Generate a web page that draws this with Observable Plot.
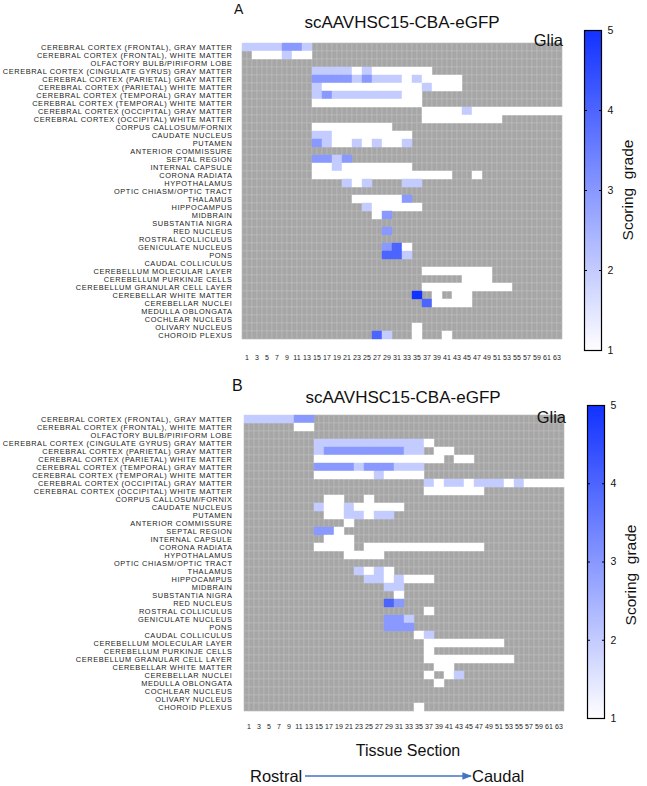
<!DOCTYPE html>
<html><head><meta charset="utf-8">
<script src="https://cdn.jsdelivr.net/npm/d3@7"></script>
<script src="https://cdn.jsdelivr.net/npm/@observablehq/plot@0.6"></script>
<style>
body{margin:0;background:#fff;}
#fig{position:relative;width:647px;height:786px;font-family:"Liberation Sans",Arial,sans-serif;overflow:hidden;background:#fff}
</style></head><body><div id="fig"></div>
<script>
// ---------- data ----------
const regions = [
"CEREBRAL CORTEX (FRONTAL), GRAY MATTER",
"CEREBRAL CORTEX (FRONTAL), WHITE MATTER",
"OLFACTORY BULB/PIRIFORM LOBE",
"CEREBRAL CORTEX (CINGULATE GYRUS) GRAY MATTER",
"CEREBRAL CORTEX (PARIETAL) GRAY MATTER",
"CEREBRAL CORTEX (PARIETAL) WHITE MATTER",
"CEREBRAL CORTEX (TEMPORAL) GRAY MATTER",
"CEREBRAL CORTEX (TEMPORAL) WHITE MATTER",
"CEREBRAL CORTEX (OCCIPITAL) GRAY MATTER",
"CEREBRAL CORTEX (OCCIPITAL) WHITE MATTER",
"CORPUS CALLOSUM/FORNIX",
"CAUDATE NUCLEUS",
"PUTAMEN",
"ANTERIOR COMMISSURE",
"SEPTAL REGION",
"INTERNAL CAPSULE",
"CORONA RADIATA",
"HYPOTHALAMUS",
"OPTIC CHIASM/OPTIC TRACT",
"THALAMUS",
"HIPPOCAMPUS",
"MIDBRAIN",
"SUBSTANTIA NIGRA",
"RED NUCLEUS",
"ROSTRAL COLLICULUS",
"GENICULATE NUCLEUS",
"PONS",
"CAUDAL COLLICULUS",
"CEREBELLUM MOLECULAR LAYER",
"CEREBELLUM PURKINJE CELLS",
"CEREBELLUM GRANULAR CELL LAYER",
"CEREBELLAR WHITE MATTER",
"CEREBELLAR NUCLEI",
"MEDULLA OBLONGATA",
"COCHLEAR NUCLEUS",
"OLIVARY NUCLEUS",
"CHOROID PLEXUS"];

const sections = d3.range(1, 65);           // tissue sections 1..64
const sectionTickLabels = [1,3,5,7,9,11,13,15,17,19,21,23,25,27,29,31,33,35,37,39,41,43,45,47,49,51,53,55,57,59,61,63];
const gradeTicks = [1,2,3,4,5];

// one string per region, one character per section ('.' = not scored, 1-5 = grade)
const gradesA = [
"22222222 333322.. ........ ........ ........ ........ ........ ........",
"..111111 221111.. ........ ........ ........ ........ ........ ........",
"........ ........ ........ ........ ........ ........ ........ ........",
"........ ......22 22222211 22111111 111111.. ........ ........ ........",
"........ ......33 33333322 33222222 11221111 1111.... ........ ........",
"........ ......22 11111111 11111111 11112211 1111.... ........ ........",
"........ ......22 33222222 22222222 1111.... ........ ........ ........",
"........ ......11 11111111 11111111 1111.... ........ ........ ........",
"........ ........ ........ ........ ....1111 11112211 11111111 11111111",
"........ ........ ........ ........ ....1111 11111111 1111.... ........",
"........ ......11 11111111 111111.. ........ ........ ........ ........",
"........ ......22 22111111 11111111 11...... ........ ........ ........",
"........ ......33 22111122 11221111 22...... ........ ........ ........",
"........ ........ ........ ........ ........ ........ ........ ........",
"........ ......33 332233.. ........ ........ ........ ........ ........",
"........ ......11 11221111 11111111 11...... ........ ........ ........",
"........ ......11 11111111 11111111 11111111 11....11 ........ ........",
"........ ........ ....2211 22...... 2222.... ........ ........ ........",
"........ ........ ........ ........ ........ ........ ........ ........",
"........ ........ ......11 11111111 33...... ........ ........ ........",
"........ ........ ........ 22111111 1111.... ........ ........ ........",
"........ ........ ........ ..1133.. ........ ........ ........ ........",
"........ ........ ........ ........ ........ ........ ........ ........",
"........ ........ ........ ....33.. ........ ........ ........ ........",
"........ ........ ........ ........ ........ ........ ........ ........",
"........ ........ ........ ....3344 11...... ........ ........ ........",
"........ ........ ........ ....4444 22...... ........ ........ ........",
"........ ........ ........ ........ ........ ........ ........ ........",
"........ ........ ........ ........ ....1111 11111111 11...... ........",
"........ ........ ........ ........ ........ ....1111 11...... ........",
"........ ........ ........ ........ ....1111 11111111 111111.. ........",
"........ ........ ........ ........ ..55..11 ..1111.. ........ ........",
"........ ........ ........ ........ ....4411 111111.. ........ ........",
"........ ........ ........ ........ ........ ........ ........ ........",
"........ ........ ........ ........ ........ ........ ........ ........",
"........ ........ ........ ........ ..11.... ........ ........ ........",
"........ ........ ........ ..4422.. ..11.... 11...... ........ ........"];

const gradesB = [
"22222222 223333.. ........ ........ ........ ........ ........ ........",
"........ ..1111.. ........ ........ ........ ........ ........ ........",
"........ ........ ........ ........ ........ ........ ........ ........",
"........ ......22 22222222 22222222 222211.. ........ ........ ........",
"........ ......22 33333333 33333333 2222..11 11...... ........ ........",
"........ ......11 11111111 11111111 11111111 ..1111.. ........ ........",
"........ ......33 33333322 33333322 2222.... ........ ........ ........",
"........ ......11 11111111 11221111 1111.... ........ ........ ........",
"........ ........ ........ ........ ....2211 22221122 22221122 11111111",
"........ ........ ........ ........ ....1111 11111111 ........ ........",
"........ ........ 1111.... 11...... ........ ........ ........ ........",
"........ ......22 11112211 11111111 ........ ........ ........ ........",
"........ ........ 11112222 112222.. ........ ........ ........ ........",
"........ ........ ....11.. ........ ........ ........ ........ ........",
"........ ......33 3311.... ........ ........ ........ ........ ........",
"........ ........ 111111.. ........ ........ ........ ........ ........",
"........ ......11 111111.. 11111111 11111111 11111111 ........ ........",
"........ ........ ....1111 1111.... ........ ........ ........ ........",
"........ ........ ........ ........ ........ ........ ........ ........",
"........ ........ ......22 112211.. ........ ........ ........ ........",
"........ ........ ........ 22221122 111111.. ........ ........ ........",
"........ ........ ........ ....2222 ........ ........ ........ ........",
"........ ........ ........ ......11 ........ ........ ........ ........",
"........ ........ ........ ....4433 ........ ........ ........ ........",
"........ ........ ........ ........ ....11.. ........ ........ ........",
"........ ........ ........ ....3333 22...... ........ ........ ........",
"........ ........ ........ ....3333 33...... ........ ........ ........",
"........ ........ ........ ........ ..1122.. ........ ........ ........",
"........ ........ ........ ........ ....1111 11111111 1111.... ........",
"........ ........ ........ ........ ....11.. ........ ........ ........",
"........ ........ ........ ........ ....1111 11111111 111111.. ........",
"........ ........ ........ ........ ......11 11...... ........ ........",
"........ ........ ........ ........ ....11.. 1122.... ........ ........",
"........ ........ ........ ........ ......11 ........ ........ ........",
"........ ........ ........ ........ ........ ........ ........ ........",
"........ ........ ........ ........ ........ ........ ........ ........",
"........ ........ ........ ........ ..11.... ........ ........ ........"];

// ---------- drawing ----------
const FONT = '"Liberation Sans", Arial, sans-serif';
const colorScale = {type: "linear", domain: [1, 5], range: ["#ffffff", "#1232ff"], interpolate: "rgb"};
const fig = document.getElementById("fig");
function place(node, left, top) {
  node.style.position = "absolute";
  node.style.left = left + "px";
  node.style.top = top + "px";
  fig.appendChild(node);
}

function toCells(grades) {
  const empty = [], scored = [];
  grades.forEach((str, i) => {
    const row = str.replace(/ /g, "");
    [...row].forEach((ch, j) => {
      const d = {region: regions[i], section: sections[j]};
      if (ch === ".") empty.push(d); else scored.push({...d, grade: +ch});
    });
  });
  return {empty, scored};
}

function heat(grades, o) {
  const {empty, scored} = toCells(grades);
  const svg = Plot.plot({
    width: 647, height: o.height,
    marginLeft: 237, marginRight: o.marginRight, marginTop: o.marginTop, marginBottom: o.marginBottom,
    style: {fontFamily: FONT, color: "#111", background: "transparent"},
    x: {type: "band", domain: sections, padding: 0, axis: null},
    y: {type: "band", domain: regions, padding: 0, axis: null},
    color: colorScale,
    marks: [
      Plot.cell(empty, {x: "section", y: "region", fill: "#a6a6a6", stroke: "#bdbdbd", strokeWidth: 0.6, inset: 0}),
      Plot.cell(scored, {x: "section", y: "region", fill: "grade", stroke: "grade", strokeWidth: 0.4, inset: 0}),
      Plot.axisY({anchor: "left", label: null, tickSize: 0, tickPadding: 5, fontSize: 7.4, fill: "#1a1a1a", className: "rowlab"}),
      Plot.axisX({anchor: "bottom", label: null, ticks: sectionTickLabels, tickSize: 0, tickPadding: 5, fontSize: 7, dx: 2, fill: "#1a1a1a"})
    ]
  });
  svg.querySelectorAll(".rowlab text, g[aria-label='y-axis tick label'] text").forEach(t => t.style.letterSpacing = "0.58px");
  return svg;
}

function colorbar(o) {
  return Plot.plot({
    width: 60, height: o.height,
    marginLeft: 1, marginRight: 42, marginTop: o.marginTop, marginBottom: o.marginBottom,
    style: {fontFamily: FONT, color: "#111", background: "transparent"},
    x: {domain: [0, 1], axis: null},
    y: {domain: [1, 5], axis: null},
    color: colorScale,
    marks: [
      Plot.raster({x1: 0, x2: 1, y1: 1, y2: 5, width: 1, height: 200, fill: (x, y) => y, imageRendering: "auto"}),
      Plot.frame({stroke: "#000", strokeWidth: 1.2}),
      Plot.axisY({anchor: "right", label: null, ticks: [2, 3, 4], tickSize: -3, tickFormat: () => "", stroke: "#000"}),
      Plot.axisY({anchor: "left", label: null, ticks: [2, 3, 4], tickSize: -3, tickFormat: () => "", stroke: "#000"}),
      Plot.axisY({anchor: "right", label: null, ticks: gradeTicks, tickFormat: d3.format("d"), tickSize: 0, tickPadding: 6, fontSize: 10.5, fill: "#111"})
    ]
  });
}

// Panel A
place(heat(gradesA, {height: 372, marginTop: 31, marginBottom: 22, marginRight: 80}), 0, 0);
place(colorbar({height: 372, marginTop: 30, marginBottom: 22}), 583, 0);
// Panel B
place(heat(gradesB, {height: 356, marginTop: 22, marginBottom: 21, marginRight: 77}), 0, 384);
place(colorbar({height: 356, marginTop: 21, marginBottom: 22}), 586, 384);

// annotations
const ns = "http://www.w3.org/2000/svg";
const ov = document.createElementNS(ns, "svg");
ov.setAttribute("width", 647); ov.setAttribute("height", 786);
ov.style.pointerEvents = "none";
ov.style.fontFamily = FONT;
function txt(s, x, y, size, anchor = "start", extra = {}) {
  const t = document.createElementNS(ns, "text");
  t.textContent = s;
  t.setAttribute("x", x); t.setAttribute("y", y);
  t.setAttribute("font-size", size);
  t.setAttribute("text-anchor", anchor);
  t.setAttribute("fill", "#111");
  t.style.whiteSpace = "pre";
  for (const k in extra) t.setAttribute(k, extra[k]);
  ov.appendChild(t);
  return t;
}
txt("A", 234, 13.5, 14);
txt("scAAVHSC15-CBA-eGFP", 402, 28, 17, "middle");
txt("Glia", 563, 45.5, 16.5, "end");
txt("Scoring  grade", 0, 0, 15.5, "middle", {transform: "translate(633,190) rotate(-90)"});

txt("B", 232, 391, 16);
txt("scAAVHSC15-CBA-eGFP", 403, 403, 17, "middle");
txt("Glia", 566, 423, 16.5, "end");
txt("Scoring  grade", 0, 0, 15.5, "middle", {transform: "translate(636,575) rotate(-90)"});

txt("Tissue Section", 408, 756, 16, "middle");
txt("Rostral", 250, 782, 16.5, "start");
txt("Caudal", 472, 782, 16.5, "start");
const defs = document.createElementNS(ns, "defs");
defs.innerHTML = '<marker id="ah" viewBox="0 0 10 10" refX="9" refY="5" markerWidth="6" markerHeight="6" orient="auto"><path d="M0,1 L10,5 L0,9 z" fill="#4472c4"/></marker>';
ov.appendChild(defs);
const ln = document.createElementNS(ns, "line");
ln.setAttribute("x1", 305); ln.setAttribute("x2", 471);
ln.setAttribute("y1", 776); ln.setAttribute("y2", 776);
ln.setAttribute("stroke", "#4472c4"); ln.setAttribute("stroke-width", 1.6);
ln.setAttribute("marker-end", "url(#ah)");
ov.appendChild(ln);
place(ov, 0, 0);
</script>
</body></html>
